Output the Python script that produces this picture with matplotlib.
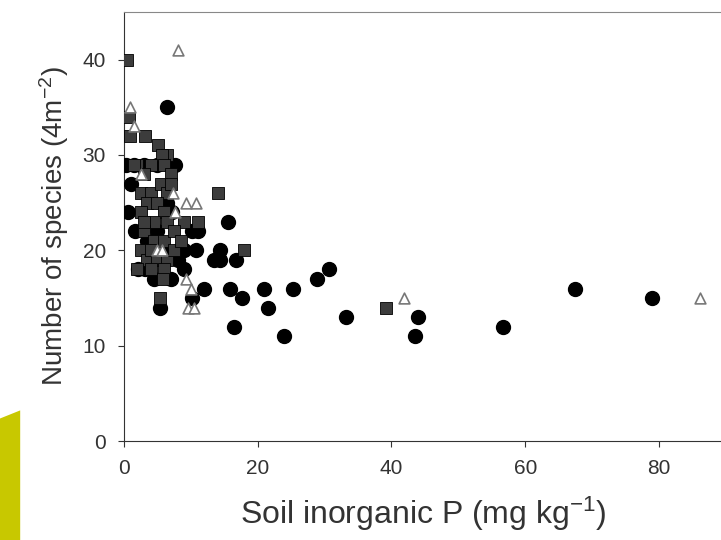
import matplotlib.pyplot as plt
from matplotlib.patches import Polygon

plt.rcParams['font.family'] = ['Liberation Sans', 'DejaVu Sans']
plt.rcParams['mathtext.fontset'] = 'custom'
plt.rcParams['mathtext.rm'] = 'Liberation Sans'
plt.rcParams['mathtext.it'] = 'Liberation Sans:italic'

# black circles
circ_x = [6.5, 0.3, 1.5, 3.0, 5.0, 7.7, 1.0, 0.6, 1.7, 3.5, 2.1, 3.2, 5.0, 6.5, 7.2,
          6.0, 8.0, 9.0, 10.7, 10.2, 11.0, 9.0, 11.9, 10.2, 5.4, 15.6, 14.4, 13.4, 14.4,
          16.7, 15.9, 17.7, 16.4, 20.9, 21.5, 24.0, 25.3, 28.9, 30.7, 33.2, 44.0, 43.5,
          56.7, 67.4, 79.0, 4.5, 7.0]
circ_y = [35, 29, 29, 29, 29, 29, 27, 24, 22, 21, 18, 18, 22, 25, 24,
          20, 19, 20, 20, 22, 22, 18, 16, 15, 14, 23, 20, 19, 19,
          19, 16, 15, 12, 16, 14, 11, 16, 17, 18, 13, 13, 11,
          12, 16, 15, 17, 17]

# grey squares
sq_x = [0.5, 0.8, 0.9, 3.2, 5.1, 6.5, 5.7, 4.0, 2.0, 3.0, 6.0, 7.0, 1.5,
        2.5, 4.0, 5.5, 6.5, 7.0, 3.5, 5.0, 6.0, 2.5, 4.5, 6.5, 8.9, 11.0, 14.0, 18.0,
        3.0, 4.5, 6.0, 2.5, 3.5, 5.0, 6.5, 7.5, 2.0, 4.0, 6.0, 5.9, 5.4, 39.2,
        3.0, 7.5, 8.5, 4.0]
sq_y = [40, 34, 32, 32, 31, 30, 30, 29, 29, 28, 29, 28, 29,
        26, 26, 27, 26, 27, 25, 25, 24, 24, 23, 23, 23, 23, 26, 20,
        22, 21, 21, 20, 19, 19, 19, 20, 18, 18, 18, 17, 15, 14,
        23, 22, 21, 20]

# open triangles
tri_x = [8.1, 0.9, 1.5, 86.2, 41.8, 9.2, 10.7, 7.4, 7.7, 9.2, 10.0, 9.5, 5.0, 5.7, 2.5, 10.4]
tri_y = [41, 35, 33, 15, 15, 25, 25, 26, 24, 17, 16, 14, 20, 20, 28, 14]

fig = plt.figure(figsize=(7.21, 5.4), dpi=100)
ax = fig.add_axes([0.172, 0.183, 0.83, 0.795])

# decorative yellow-green shape in the lower left corner
fig.patches.append(Polygon([[0, 0], [0.028, 0], [0.028, 0.24], [0, 0.225]],
                           closed=True, transform=fig.transFigure,
                           facecolor='#c8c800', edgecolor='none'))

ax.scatter(circ_x, circ_y, s=100, marker='o', color='black', zorder=3)
ax.scatter(sq_x, sq_y, s=70, marker='s', facecolor='#3c3c3c',
           edgecolor='black', linewidth=0.6, zorder=4)
ax.scatter(tri_x, tri_y, s=60, marker='^', facecolor='white',
           edgecolor='#777777', linewidth=1.2, zorder=5)

ax.set_xlim(0, 89.5)
ax.set_ylim(0, 45)
ax.set_xticks([0, 20, 40, 60, 80])
ax.set_yticks([0, 10, 20, 30, 40])
ax.tick_params(labelsize=15, colors='#333333', length=4, direction='out', pad=9)

ax.spines['right'].set_visible(False)
ax.spines['top'].set_color('#888888')
ax.spines['left'].set_color('#333333')
ax.spines['bottom'].set_color('#333333')

ax.set_xlabel('Soil inorganic P (mg kg$^{-1}$)', fontsize=23, color='#333333', labelpad=12)
ax.set_ylabel('Number of species (4m$^{-2}$)', fontsize=20, color='#333333', labelpad=8)

fig.savefig('out.png', dpi=100)
